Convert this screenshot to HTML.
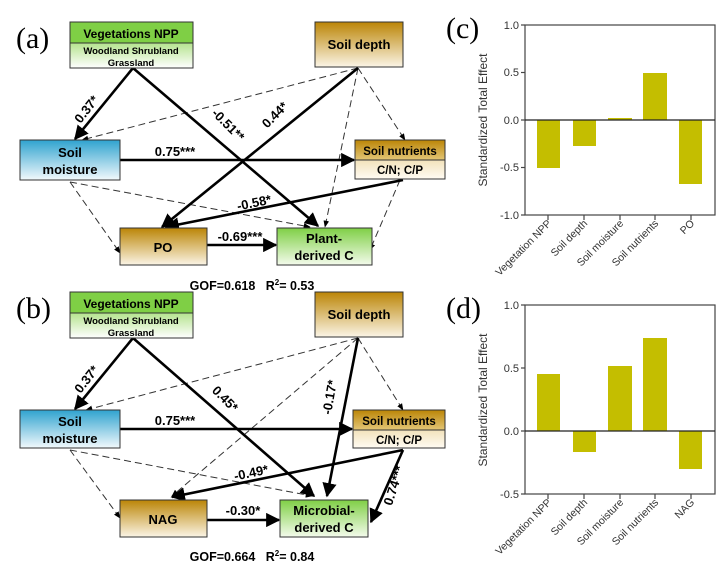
<!DOCTYPE html>
<html><head><meta charset="utf-8"><style>body{margin:0;background:#fff}svg{display:block}</style></head><body>
<svg width="726" height="573" viewBox="0 0 726 573" xmlns="http://www.w3.org/2000/svg" font-family="Liberation Sans, Arial, sans-serif">
<defs>
<linearGradient id="g" x1="0" y1="0" x2="0" y2="1"><stop offset="0" stop-color="#7fcf45"/><stop offset="1" stop-color="#f4fbec"/></linearGradient>
<linearGradient id="gl" x1="0" y1="0" x2="0" y2="1"><stop offset="0" stop-color="#b5e38e"/><stop offset="1" stop-color="#ffffff"/></linearGradient>
<linearGradient id="b" x1="0" y1="0" x2="0" y2="1"><stop offset="0" stop-color="#2fa3cf"/><stop offset="1" stop-color="#f2f9fc"/></linearGradient>
<linearGradient id="o" x1="0" y1="0" x2="0" y2="1"><stop offset="0" stop-color="#bb8506"/><stop offset="1" stop-color="#fbf5e6"/></linearGradient>
<linearGradient id="ot" x1="0" y1="0" x2="0" y2="1"><stop offset="0" stop-color="#bb8506"/><stop offset="1" stop-color="#e3c676"/></linearGradient>
<linearGradient id="ob" x1="0" y1="0" x2="0" y2="1"><stop offset="0" stop-color="#f2e2bb"/><stop offset="1" stop-color="#fffbf3"/></linearGradient>
<marker id="a" viewBox="0 0 10 10" refX="9" refY="5" markerWidth="5.5" markerHeight="5.5" orient="auto"><path d="M0,0L10,5L0,10z" fill="#000"/></marker>
<marker id="ad" viewBox="0 0 10 10" refX="9" refY="5" markerWidth="7" markerHeight="7" orient="auto"><path d="M0,1L10,5L0,9z" fill="#000"/></marker>
</defs>

<g id="top">
<text x="16" y="48" font-family="Liberation Serif, serif" font-size="30">(a)</text>
<g stroke="#333" stroke-width="1" stroke-dasharray="7,4" fill="none" marker-end="url(#ad)">
<line x1="358" y1="68" x2="82" y2="140"/>
<line x1="358" y1="68" x2="325" y2="227"/>
<line x1="358" y1="68" x2="405" y2="140"/>
<line x1="70" y1="182" x2="120" y2="253"/>
<line x1="70" y1="182" x2="310" y2="227"/>
<line x1="400" y1="180" x2="370" y2="250"/>
</g>
<g stroke="#000" stroke-width="2.6" fill="none" marker-end="url(#a)">
<line x1="133" y1="68" x2="75" y2="139"/>
<line x1="133" y1="68" x2="318" y2="226"/>
<line x1="358" y1="68" x2="162" y2="227"/>
<line x1="120" y1="160" x2="354" y2="160"/>
<line x1="403" y1="180" x2="166" y2="227"/>
<line x1="207" y1="245" x2="276" y2="245"/>
</g>
<rect x="70" y="22" width="123" height="21" fill="#7fcf45" stroke="#333"/>
<rect x="70" y="43" width="123" height="25" fill="url(#gl)" stroke="#333"/>
<text x="131" y="38" font-size="12" font-weight="bold" text-anchor="middle">Vegetations NPP</text>
<text x="131" y="54" font-size="9.5" font-weight="bold" text-anchor="middle">Woodland Shrubland</text>
<text x="131" y="66" font-size="9.5" font-weight="bold" text-anchor="middle">Grassland</text>
<rect x="315" y="22" width="88" height="45" fill="url(#o)" stroke="#333"/>
<text x="359" y="49" font-size="13" font-weight="bold" text-anchor="middle">Soil depth</text>
<rect x="20" y="140" width="100" height="40" fill="url(#b)" stroke="#333"/>
<text x="70" y="157" font-size="13" font-weight="bold" text-anchor="middle">Soil</text>
<text x="70" y="174" font-size="13" font-weight="bold" text-anchor="middle">moisture</text>
<rect x="355" y="140" width="90" height="20" fill="url(#ot)" stroke="#333"/>
<rect x="355" y="160" width="90" height="19" fill="url(#ob)" stroke="#333"/>
<text x="400" y="155" font-size="11.5" font-weight="bold" text-anchor="middle">Soil nutrients</text>
<text x="400" y="174" font-size="11.5" font-weight="bold" text-anchor="middle">C/N; C/P</text>
<rect x="120" y="228" width="87" height="37" fill="url(#o)" stroke="#333"/>
<text x="163" y="252" font-size="13" font-weight="bold" text-anchor="middle">PO</text>
<rect x="277" y="228" width="95" height="37" fill="url(#g)" stroke="#333"/>
<text x="324" y="243" font-size="13" font-weight="bold" text-anchor="middle">Plant-</text>
<text x="324" y="260" font-size="13" font-weight="bold" text-anchor="middle">derived C</text>
<g font-size="13" font-weight="bold">
<text transform="translate(90,112) rotate(-52)" text-anchor="middle">0.37*</text>
<text transform="translate(225,128) rotate(45)" text-anchor="middle">-0.51**</text>
<text transform="translate(278,118) rotate(-45)" text-anchor="middle">0.44*</text>
<text x="175" y="156" text-anchor="middle">0.75***</text>
<text transform="translate(255,207) rotate(-12)" text-anchor="middle">-0.58*</text>
<text x="240" y="241" text-anchor="middle">-0.69***</text>
<text x="252" y="290" font-size="12.5" text-anchor="middle">GOF=0.618&#160;&#160;&#160;R<tspan font-size="8" dy="-5">2</tspan><tspan dy="5">= 0.53</tspan></text>
</g>
</g>

<g id="bot">
<text x="16" y="318" font-family="Liberation Serif, serif" font-size="30">(b)</text>
<g stroke="#333" stroke-width="1" stroke-dasharray="7,4" fill="none" marker-end="url(#ad)">
<line x1="358" y1="338" x2="86" y2="410"/>
<line x1="358" y1="338" x2="172" y2="496"/>
<line x1="358" y1="338" x2="403" y2="410"/>
<line x1="70" y1="450" x2="120" y2="518"/>
<line x1="70" y1="450" x2="312" y2="496"/>
</g>
<g stroke="#000" stroke-width="2.6" fill="none" marker-end="url(#a)">
<line x1="133" y1="338" x2="75" y2="409"/>
<line x1="133" y1="338" x2="314" y2="496"/>
<line x1="358" y1="338" x2="327" y2="496"/>
<line x1="120" y1="429" x2="352" y2="429"/>
<line x1="403" y1="450" x2="172" y2="497"/>
<line x1="403" y1="450" x2="371" y2="522"/>
<line x1="207" y1="520" x2="279" y2="520"/>
</g>
<rect x="70" y="292" width="123" height="21" fill="#7fcf45" stroke="#333"/>
<rect x="70" y="313" width="123" height="25" fill="url(#gl)" stroke="#333"/>
<text x="131" y="308" font-size="12" font-weight="bold" text-anchor="middle">Vegetations NPP</text>
<text x="131" y="324" font-size="9.5" font-weight="bold" text-anchor="middle">Woodland Shrubland</text>
<text x="131" y="336" font-size="9.5" font-weight="bold" text-anchor="middle">Grassland</text>
<rect x="315" y="292" width="88" height="45" fill="url(#o)" stroke="#333"/>
<text x="359" y="319" font-size="13" font-weight="bold" text-anchor="middle">Soil depth</text>
<rect x="20" y="410" width="100" height="38" fill="url(#b)" stroke="#333"/>
<text x="70" y="426" font-size="13" font-weight="bold" text-anchor="middle">Soil</text>
<text x="70" y="443" font-size="13" font-weight="bold" text-anchor="middle">moisture</text>
<rect x="353" y="410" width="92" height="20" fill="url(#ot)" stroke="#333"/>
<rect x="353" y="430" width="92" height="18" fill="url(#ob)" stroke="#333"/>
<text x="399" y="425" font-size="11.5" font-weight="bold" text-anchor="middle">Soil nutrients</text>
<text x="399" y="444" font-size="11.5" font-weight="bold" text-anchor="middle">C/N; C/P</text>
<rect x="120" y="500" width="87" height="37" fill="url(#o)" stroke="#333"/>
<text x="163" y="524" font-size="13" font-weight="bold" text-anchor="middle">NAG</text>
<rect x="280" y="500" width="88" height="37" fill="url(#g)" stroke="#333"/>
<text x="324" y="515" font-size="13" font-weight="bold" text-anchor="middle">Microbial-</text>
<text x="324" y="532" font-size="13" font-weight="bold" text-anchor="middle">derived C</text>
<g font-size="13" font-weight="bold">
<text transform="translate(90,382) rotate(-52)" text-anchor="middle">0.37*</text>
<text transform="translate(222,402) rotate(45)" text-anchor="middle">0.45*</text>
<text transform="translate(334,398) rotate(-80)" text-anchor="middle">-0.17*</text>
<text x="175" y="425" text-anchor="middle">0.75***</text>
<text transform="translate(252,477) rotate(-12)" text-anchor="middle">-0.49*</text>
<text transform="translate(398,487) rotate(-72)" text-anchor="middle">0.74***</text>
<text x="243" y="515" text-anchor="middle">-0.30*</text>
<text x="252" y="561" font-size="12.5" text-anchor="middle">GOF=0.664&#160;&#160;&#160;R<tspan font-size="8" dy="-5">2</tspan><tspan dy="5">= 0.84</tspan></text>
</g>
</g>

<!-- chart c -->
<g font-size="11" fill="#333">
<text x="446" y="38" font-family="Liberation Serif, serif" font-size="30" fill="#000">(c)</text>
<g fill="#c4be00">
<rect x="537" y="120" width="23" height="48"/>
<rect x="573" y="120" width="23" height="26"/>
<rect x="608" y="118" width="24" height="2"/>
<rect x="643" y="73" width="24" height="47"/>
<rect x="679" y="120" width="23" height="64"/>
</g>
<rect x="525" y="25" width="190" height="190" fill="none" stroke="#444" stroke-width="1.2"/>
<line x1="525" y1="120" x2="715" y2="120" stroke="#222" stroke-width="1.2"/>
<g stroke="#444" stroke-width="1.2">
<line x1="521" y1="25" x2="525" y2="25"/><line x1="521" y1="72.5" x2="525" y2="72.5"/><line x1="521" y1="120" x2="525" y2="120"/><line x1="521" y1="167.5" x2="525" y2="167.5"/><line x1="521" y1="215" x2="525" y2="215"/>
<line x1="548" y1="215" x2="548" y2="220"/><line x1="584" y1="215" x2="584" y2="220"/><line x1="620" y1="215" x2="620" y2="220"/><line x1="655" y1="215" x2="655" y2="220"/><line x1="691" y1="215" x2="691" y2="220"/>
</g>
<g text-anchor="end">
<text x="519" y="29">1.0</text><text x="519" y="76">0.5</text><text x="519" y="124">0.0</text><text x="519" y="171">-0.5</text><text x="519" y="219">-1.0</text>
</g>
<text transform="translate(487,120) rotate(-90)" text-anchor="middle" font-size="12">Standardized Total Effect</text>
<g text-anchor="end" font-size="10.5">
<text transform="translate(552,224) rotate(-45)">Vegetation NPP</text>
<text transform="translate(588,224) rotate(-45)">Soil depth</text>
<text transform="translate(624,224) rotate(-45)">Soil moisture</text>
<text transform="translate(659,224) rotate(-45)">Soil nutrients</text>
<text transform="translate(695,224) rotate(-45)">PO</text>
</g>
</g>

<!-- chart d -->
<g font-size="11" fill="#333">
<text x="446" y="318" font-family="Liberation Serif, serif" font-size="30" fill="#000">(d)</text>
<g fill="#c4be00">
<rect x="537" y="374" width="23" height="57"/>
<rect x="573" y="431" width="23" height="21"/>
<rect x="608" y="366" width="24" height="65"/>
<rect x="643" y="338" width="24" height="93"/>
<rect x="679" y="431" width="23" height="38"/>
</g>
<rect x="525" y="305" width="190" height="189" fill="none" stroke="#444" stroke-width="1.2"/>
<line x1="525" y1="431" x2="715" y2="431" stroke="#222" stroke-width="1.2"/>
<g stroke="#444" stroke-width="1.2">
<line x1="521" y1="305" x2="525" y2="305"/><line x1="521" y1="368" x2="525" y2="368"/><line x1="521" y1="431" x2="525" y2="431"/><line x1="521" y1="494" x2="525" y2="494"/>
<line x1="548" y1="494" x2="548" y2="499"/><line x1="584" y1="494" x2="584" y2="499"/><line x1="620" y1="494" x2="620" y2="499"/><line x1="655" y1="494" x2="655" y2="499"/><line x1="691" y1="494" x2="691" y2="499"/>
</g>
<g text-anchor="end">
<text x="519" y="309">1.0</text><text x="519" y="372">0.5</text><text x="519" y="435">0.0</text><text x="519" y="498">-0.5</text>
</g>
<text transform="translate(487,400) rotate(-90)" text-anchor="middle" font-size="12">Standardized Total Effect</text>
<g text-anchor="end" font-size="10.5">
<text transform="translate(552,503) rotate(-45)">Vegetation NPP</text>
<text transform="translate(588,503) rotate(-45)">Soil depth</text>
<text transform="translate(624,503) rotate(-45)">Soil moisture</text>
<text transform="translate(659,503) rotate(-45)">Soil nutrients</text>
<text transform="translate(695,503) rotate(-45)">NAG</text>
</g>
</g>
</svg>
</body></html>
